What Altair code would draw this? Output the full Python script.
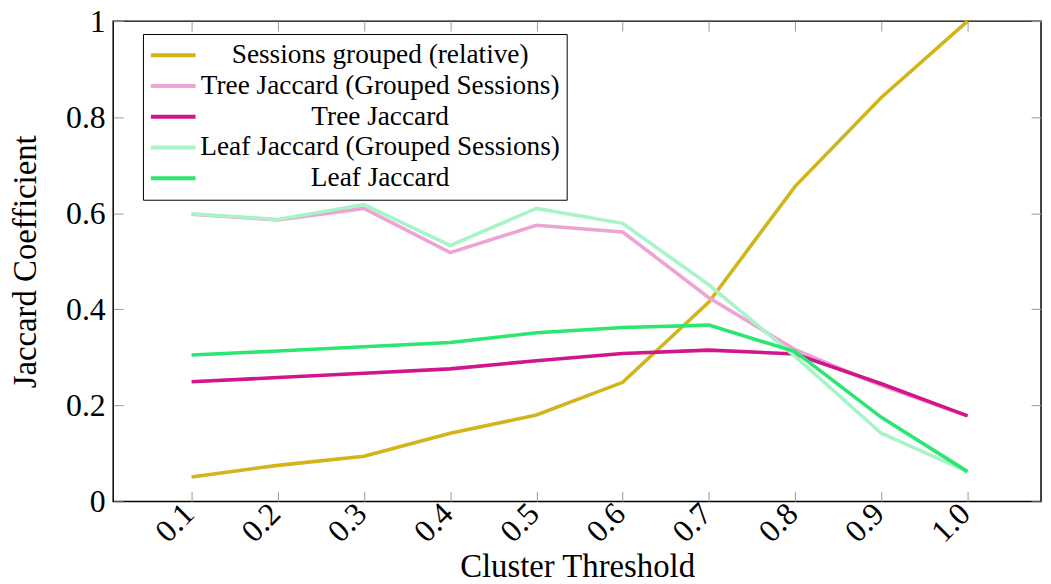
import altair as alt
import pandas as pd

thresholds = [0.1, 0.2, 0.3, 0.4, 0.5, 0.6, 0.7, 0.8, 0.9, 1.0]
y_ticks = [0, 0.2, 0.4, 0.6, 0.8, 1]

series_names = [
    "Sessions grouped (relative)",
    "Tree Jaccard (Grouped Sessions)",
    "Tree Jaccard",
    "Leaf Jaccard (Grouped Sessions)",
    "Leaf Jaccard",
]
series_colors = ["#D2B41B", "#EDA3D3", "#D0168A", "#A9F3C8", "#2BE672"]

sessions_grouped = [0.051, 0.075, 0.094, 0.142, 0.180, 0.248, 0.415, 0.656, 0.841, 1.0]
tree_grouped = [0.598, 0.586, 0.610, 0.518, 0.575, 0.561, 0.424, 0.316, 0.241, 0.178]
tree = [0.249, 0.258, 0.267, 0.276, 0.293, 0.308, 0.315, 0.307, 0.245, 0.178]
leaf_grouped = [0.599, 0.587, 0.618, 0.533, 0.610, 0.579, 0.451, 0.302, 0.142, 0.062]
leaf = [0.305, 0.313, 0.322, 0.331, 0.351, 0.362, 0.367, 0.312, 0.175, 0.062]

all_series = [sessions_grouped, tree_grouped, tree, leaf_grouped, leaf]
rows = []
for order, (name, vals) in enumerate(zip(series_names, all_series)):
    for t, v in zip(thresholds, vals):
        rows.append({"series": name, "threshold": t, "value": v, "k": order})
df = pd.DataFrame(rows)

W, H = 935, 484
FONT = "Liberation Serif"

xscale = alt.Scale(domain=[0.0091, 1.0852], nice=False, zero=False)
yscale = alt.Scale(domain=[0, 1], nice=False, zero=False)

lines = alt.Chart(df).mark_line(strokeWidth=3.6).encode(
    x=alt.X("threshold:Q", scale=xscale, axis=alt.Axis(
        orient="bottom", values=thresholds, format=".1f", ticks=False, domain=False, grid=False,
        labelAngle=-45, labelAlign="right", labelBaseline="middle", labelPadding=7,
        labelOffset=-3,
        labelFont=FONT, labelFontSize=32, labelColor="black",
        title="Cluster Threshold", titleFont=FONT, titleFontSize=33, titleFontWeight="normal",
        titleColor="black", titlePadding=3)),
    y=alt.Y("value:Q", scale=yscale, axis=alt.Axis(
        orient="left", values=y_ticks, format="~g", ticks=False, domain=False, grid=False,
        labelPadding=8, labelFont=FONT, labelFontSize=32, labelColor="black",
        title="Jaccard Coefficient", titleFont=FONT, titleFontSize=33, titleFontWeight="normal",
        titleColor="black", titlePadding=23)),
    color=alt.Color("series:N", scale=alt.Scale(domain=series_names, range=series_colors),
        legend=alt.Legend(title=None, orient="none", legendX=30, legendY=13,
            symbolType="stroke", symbolSize=2025, symbolStrokeWidth=4,
            labelFont=FONT, labelFontSize=27.5, labelColor="black", labelAlign="center",
            labelOffset=184, labelLimit=0, strokeColor="black", fillColor="white",
            padding=6, rowPadding=0, clipHeight=30.8)),
    order=alt.Order("k:Q"),
)

tick_axis = dict(labels=False, title=None, domain=False, grid=False, ticks=True,
                 tickSize=10, tickColor="#999999", tickWidth=1)

ticks_a = alt.Chart(df).mark_point(opacity=0).encode(
    x=alt.X("threshold:Q", scale=xscale, axis=alt.Axis(
        orient="top", offset=-H, values=thresholds, **tick_axis)),
    y=alt.Y("value:Q", scale=yscale, axis=alt.Axis(
        orient="right", offset=-W, values=y_ticks, **tick_axis)),
)

ticks_b = alt.Chart(df).mark_point(opacity=0).encode(
    x=alt.X("threshold:Q", scale=xscale, axis=alt.Axis(
        orient="bottom", offset=-H, values=thresholds, **tick_axis)),
    y=alt.Y("value:Q", scale=yscale, axis=alt.Axis(
        orient="left", offset=-W, values=y_ticks, **tick_axis)),
)

chart = alt.layer(ticks_a, ticks_b, lines).resolve_axis(
    x="independent", y="independent"
).properties(
    width=W, height=H,
    autosize=alt.AutoSizeParams(type="none"),
    padding={"left": 106, "top": 11, "right": 2, "bottom": 81},
    background="white",
).configure_view(stroke="black", strokeWidth=1.5)

chart.save("out.html", embed_options={"renderer": "svg", "actions": False})
